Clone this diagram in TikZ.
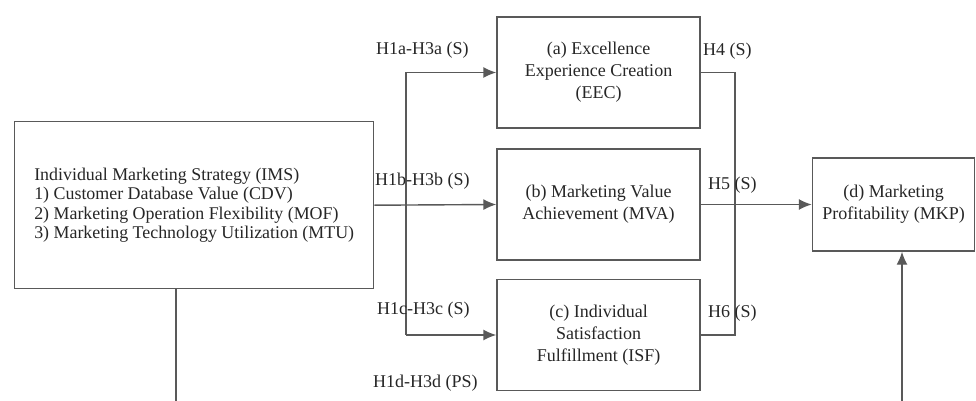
\documentclass[tikz,border=0pt]{standalone}
\usepackage{fontspec}
\setmainfont{Liberation Serif}
\newfontfamily\figfont{Liberation Serif}
\usetikzlibrary{positioning,arrows.meta}

\tikzset{
  box/.style={rectangle, draw=black!65, line width=1.4pt, text=black!85, align=center, inner sep=0pt,
    font=\figfont\fontsize{18}{22}\selectfont},
  hyp/.style={anchor=west, inner sep=0pt, text=black!85},
  link/.style={draw=black!65, line width=1.4pt},
}

\begin{document}
\begin{tikzpicture}[x=1pt, y=-1pt, font=\figfont\fontsize{18}{22}\selectfont, >={Latex[length=13pt,width=11pt]}]
\useasboundingbox (0,0) rectangle (976,401);

\node[box, anchor=north west, minimum width=359pt, minimum height=167pt, align=left,
  font=\figfont\fontsize{17.9}{19.4}\selectfont] (ims) at (14,121)
  {Individual Marketing Strategy (IMS)\\1) Customer Database Value (CDV)\\2) Marketing Operation Flexibility (MOF)\\3) Marketing Technology Utilization (MTU)};

\node[box, minimum width=203pt, minimum height=111pt] (eec) at (598.5,72.5) {(a) Excellence\\Experience Creation\\(EEC)};
\node[box, minimum width=203pt, minimum height=111pt] (mva) at (598.5,204.5) {(b) Marketing Value\\Achievement (MVA)};
\node[box, minimum width=203pt, minimum height=111pt] (isf) at (598.5,335) {(c) Individual\\Satisfaction\\Fulfillment (ISF)};
\node[box, minimum width=162pt, minimum height=93pt] (mkp) at (893.5,204.5) {(d) Marketing\\Profitability (MKP)};

% left and right bus
\coordinate (busl) at (406,0);
\coordinate (busr) at (735,0);
\coordinate (imsdown) at (176,401);
\coordinate (mkpup) at (902,401);

\path [link, ->] (ims.east) -- (mva.west);
\path [link] (busl |- eec.west) -- (busl |- isf.west);
\path [link, ->] (busl |- eec.west) -- (eec.west);
\path [link, ->] (busl |- isf.west) -- (isf.west);

\path [link] (eec.east) -- (busr |- eec.east) -- (busr |- isf.east) -- (isf.east);
\path [link, ->] (mva.east) -- (mkp.west);

\path [link] (imsdown |- ims.south) -- (imsdown);
\path [link, ->] (mkpup) -- (mkpup |- mkp.south);

\node[hyp] (h1a) at (376,50) {H1a-H3a (S)};
\node[hyp] (h1b) at (375,181) {H1b-H3b (S)};
\node[hyp] (h1c) at (377,310) {H1c-H3c (S)};
\node[hyp] (h1d) at (373,383) {H1d-H3d (PS)};
\node[hyp] (h4) at (703,51) {H4 (S)};
\node[hyp] (h5) at (708,185) {H5 (S)};
\node[hyp] (h6) at (708,313) {H6 (S)};
\end{tikzpicture}
\end{document}
